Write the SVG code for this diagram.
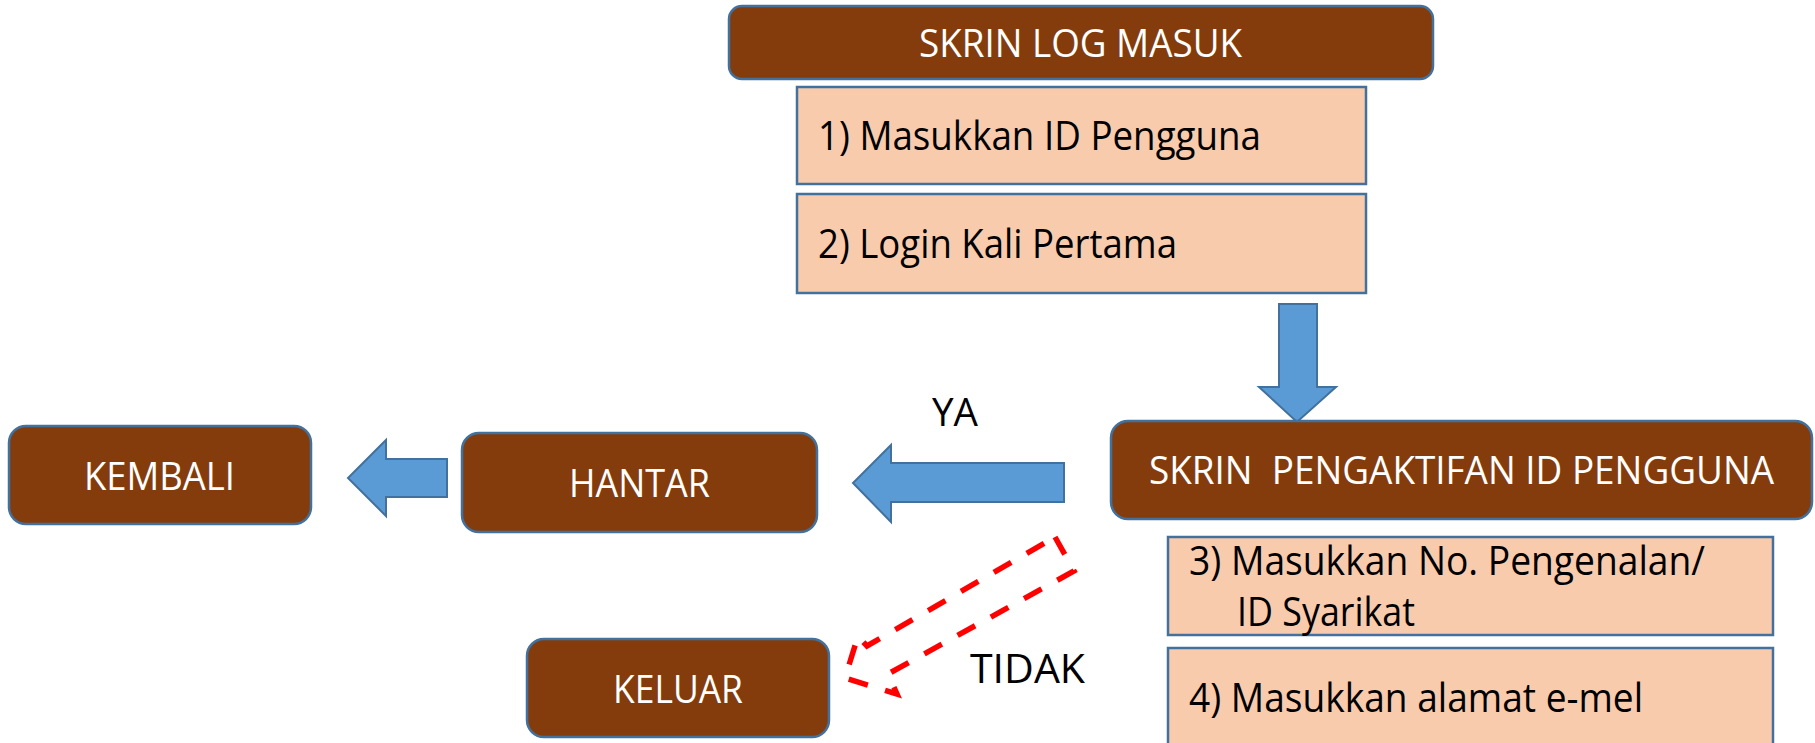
<svg xmlns="http://www.w3.org/2000/svg" width="1815" height="743" viewBox="0 0 1815 743">
<style>
.brown{fill:#843C0C;stroke:#41719C;stroke-width:2.5}
.peach{fill:#F8CBAD;stroke:#41719C;stroke-width:2.5}
.blk{fill:#5B9BD5;stroke:#41719C;stroke-width:2;stroke-linejoin:miter}
.t{font-family:"Open Sans","Liberation Sans",sans-serif;font-size:38px;white-space:pre}
.big{font-size:40px}
.w{fill:#FFFFFF}
.k{fill:#000000}
.dash{fill:none;stroke:#FF0000;stroke-width:5.5;stroke-dasharray:20 18}
</style>
<rect width="1815" height="743" fill="#FFFFFF"/>
<g id="connectors">
<polygon class="blk" points="1279,304 1317,304 1317,387 1336,387 1297,422 1259,387 1279,387"/>
<polygon class="blk" points="447,459 447,497 386,497 386,516 348,478 386,440 386,459"/>
<polygon class="blk" points="1064,463 1064,502 891,502 891,522 853,483 891,445 891,463"/>
<polygon class="dash" points="1055,537 1074,571 888,674 897,694 845,678 858,636 867,646"/>
<text class="t k" x="932" y="426" textLength="46" lengthAdjust="spacingAndGlyphs">YA</text>
<text class="t k" x="970" y="683" style="font-size:41px" textLength="115" lengthAdjust="spacingAndGlyphs">TIDAK</text>
</g>
<g id="skrin-log-masuk">
<rect class="brown" x="729" y="6" width="704" height="73" rx="13"/>
<text class="t w" x="919" y="57" textLength="323" lengthAdjust="spacingAndGlyphs">SKRIN LOG MASUK</text>
</g>
<g id="step1">
<rect class="peach" x="797" y="87" width="569" height="97"/>
<text class="t k big" x="818" y="150" textLength="443" lengthAdjust="spacingAndGlyphs">1) Masukkan ID Pengguna</text>
</g>
<g id="step2">
<rect class="peach" x="797" y="194" width="569" height="99"/>
<text class="t k big" x="818" y="258" textLength="359" lengthAdjust="spacingAndGlyphs">2) Login Kali Pertama</text>
</g>
<g id="skrin-pengaktifan">
<rect class="brown" x="1111" y="421" width="701" height="98" rx="17"/>
<text class="t w" x="1149" y="484" textLength="625" lengthAdjust="spacingAndGlyphs">SKRIN  PENGAKTIFAN ID PENGGUNA</text>
</g>
<g id="step3">
<rect class="peach" x="1168" y="537" width="605" height="98"/>
<text class="t k big" x="1189" y="575" textLength="516" lengthAdjust="spacingAndGlyphs">3) Masukkan No. Pengenalan/</text>
<text class="t k big" x="1237" y="626" textLength="178" lengthAdjust="spacingAndGlyphs">ID Syarikat</text>
</g>
<g id="step4">
<rect class="peach" x="1168" y="648" width="605" height="102"/>
<text class="t k big" x="1189" y="712" textLength="454" lengthAdjust="spacingAndGlyphs">4) Masukkan alamat e-mel</text>
</g>
<g id="kembali">
<rect class="brown" x="9" y="426" width="302" height="98" rx="17"/>
<text class="t w" x="84" y="490" textLength="151" lengthAdjust="spacingAndGlyphs">KEMBALI</text>
</g>
<g id="hantar">
<rect class="brown" x="462" y="433" width="355" height="99" rx="17"/>
<text class="t w" x="569" y="497" textLength="141" lengthAdjust="spacingAndGlyphs">HANTAR</text>
</g>
<g id="keluar">
<rect class="brown" x="527" y="639" width="302" height="98" rx="17"/>
<text class="t w" x="613" y="703" textLength="130" lengthAdjust="spacingAndGlyphs">KELUAR</text>
</g>
</svg>
